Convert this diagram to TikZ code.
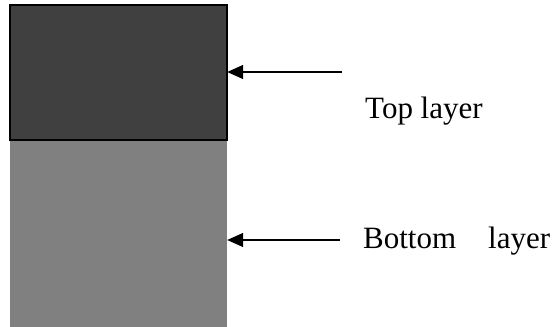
\documentclass[tikz,border=0pt]{standalone}
\usepackage{fontspec}
\setmainfont{Liberation Serif}
\usetikzlibrary{arrows.meta}
\definecolor{topfill}{HTML}{404040}
\definecolor{botfill}{HTML}{808080}
\tikzset{
  layerlabel/.style={anchor=base west, inner sep=0pt, font=\fontsize{31}{31}\selectfont},
  pointer/.style={line width=1.5pt, -{Triangle[length=16pt,width=14pt]}}
}
\begin{document}
\begin{tikzpicture}[x=1pt,y=-1pt]
  \useasboundingbox (0,0) rectangle (558,327);
  % two stacked layers
  \fill[botfill] (10,140) rectangle (227,327);
  \draw[fill=topfill, line width=2pt] (10,5) rectangle (227,140);
  \node[inner sep=0pt, minimum width=217pt, minimum height=135pt] (toplayer) at (118.5,72.5) {};
  \node[inner sep=0pt, minimum width=217pt, minimum height=187pt] (botlayer) at (118.5,233.5) {};
  % labels
  \node[layerlabel] (toplabel) at (365,118) {Top layer};
  \node[layerlabel] (botlabel) at (363,248) {Bottom\hspace{32pt}layer};
  % pointers
  \coordinate (topstart) at (342,72);
  \coordinate (botstart) at (340,240);
  \draw[pointer] (topstart) -- (topstart -| toplayer.east);
  \draw[pointer] (botstart) -- (botstart -| botlayer.east);
\end{tikzpicture}
\end{document}
